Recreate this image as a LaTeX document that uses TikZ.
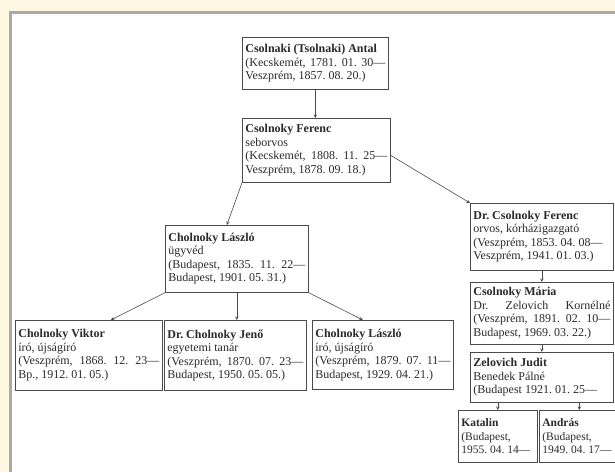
\documentclass[tikz,border=0pt]{standalone}
\usepackage{fontspec}
\setmainfont{Liberation Serif}
\frenchspacing
\definecolor{hatter}{HTML}{FFF7E1}
\definecolor{keret}{HTML}{A9A9A9}
\definecolor{vonal}{HTML}{4A4A4A}
\definecolor{betu}{HTML}{2A2A2A}
\begin{document}
\begin{tikzpicture}[x=1pt,y=-1pt,
		doboz/.style={draw=vonal,line width=.7pt,anchor=north west,align=justify,inner sep=3pt,text=betu,font=\fontsize{12}{13.5}\selectfont},
		kicsi/.style={font=\fontsize{11.5}{13.5}\selectfont},
		nyil/.style={draw=vonal,line width=.6pt,->,>=stealth}]
		\path[use as bounding box,fill=hatter] (0,0) rectangle (615,472);
		\fill[white] (12,14) rectangle (615,472);
		\draw[keret,line width=3pt] (10.5,472)--(10.5,12.5)--(615,12.5);
		\clip (0,0) rectangle (615,472);
		\node[doboz,text width=140pt,minimum height=52pt] (antal) at (242,37) {\textbf{Csolnaki (Tsolnaki) Antal}\\(Kecskemét, 1781. 01. 30—\linebreak Veszprém, 1857. 08. 20.)};
		\node[doboz,text width=142pt,minimum height=64pt] (ferenc) at (242,118) {\textbf{Csolnoky Ferenc}\\seborvos\\(Kecskemét, 1808. 11. 25—\linebreak Veszprém, 1878. 09. 18.)};
		\node[doboz,text width=137pt,minimum height=67pt] (laszlo) at (165,225) {\textbf{Cholnoky László}\\ügyvéd\\(Budapest, 1835. 11. 22—\linebreak Budapest, 1901. 05. 31.)};
		\node[doboz,text width=141pt,minimum height=70pt] (viktor) at (15,320) {\textbf{Cholnoky Viktor}\\író, újságíró\\(Veszprém, 1868. 12. 23—\linebreak Bp., 1912. 01. 05.)};
		\node[doboz,text width=136pt,minimum height=70pt] (jeno) at (164,320) {\textbf{Dr. Cholnoky Jenő}\\egyetemi tanár\\(Veszprém, 1870. 07. 23—\linebreak Budapest, 1950. 05. 05.)};
		\node[doboz,text width=135pt,minimum height=69pt] (laszloj) at (312,320) {\textbf{Cholnoky László}\\író, újságíró\\(Veszprém, 1879. 07. 11—\linebreak Budapest, 1929. 04. 21.)};
		\node[doboz,text width=137pt,minimum height=67pt] (drferenc) at (470,203) {\textbf{Dr. Csolnoky Ferenc}\\orvos, kórházigazgató\\(Veszprém, 1853. 04. 08—\\Veszprém, 1941. 01. 03.)};
		\node[doboz,text width=137pt,minimum height=62pt] (maria) at (470,282) {\textbf{Csolnoky Mária}\\Dr. Zelovich Kornélné\linebreak (Veszprém, 1891. 02. 10—\linebreak Budapest, 1969. 03. 22.)};
		\node[doboz,text width=137pt,minimum height=50pt] (judit) at (470,352) {\textbf{Zelovich Judit}\\Benedek Pálné\\(Budapest 1921. 01. 25—};
		\node[doboz,kicsi,text width=73pt,minimum height=52pt] (katalin) at (458,410) {\textbf{Katalin}\\(Budapest,\\\mbox{1955. 04. 14—}};
		\node[doboz,kicsi,text width=74pt,minimum height=52pt] (andras) at (539,410) {\textbf{András}\\(Budapest,\\\mbox{1949. 04. 17—}};
		\foreach \a/\b in {antal/ferenc,drferenc/maria,maria/judit,laszlo/jeno}
		\draw[nyil] (\a.south)--(\a.south |- \b.north);
		\draw[nyil] (ferenc.south west)--([xshift=-10pt]laszlo.north);
		\draw[nyil] ([yshift=-5pt]ferenc.east)--(drferenc.north west);
		\draw[nyil] (laszlo.south west)--([xshift=22pt]viktor.north);
		\draw[nyil] (laszlo.south east)--([xshift=-20pt]laszloj.north);
		\foreach \g in {katalin,andras}
		\draw[nyil] (judit.south -| \g.north)--(\g.north);
	\end{tikzpicture}
\end{document}
